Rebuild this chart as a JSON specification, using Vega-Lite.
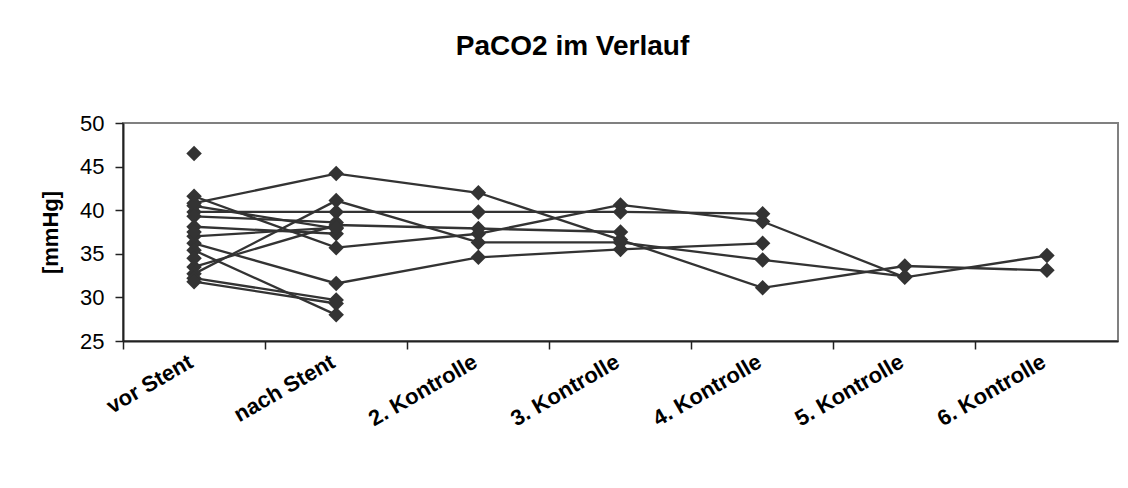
{
  "$schema": "https://vega.github.io/schema/vega-lite/v6.json",
  "width": 995,
  "height": 218,
  "autosize": "none",
  "padding": {"left": 123, "top": 123, "right": 10, "bottom": 147},
  "background": "white",
  "title": {
    "text": "PaCO2 im Verlauf",
    "font": "Liberation Sans",
    "fontSize": 28,
    "fontWeight": "bold",
    "color": "black",
    "anchor": "middle",
    "baseline": "bottom",
    "offset": 23,
    "dx": -48
  },
  "data": {
    "values": [
      {"p": "P1", "t": "vor Stent", "v": 41.6},
      {"p": "P1", "t": "nach Stent", "v": 35.7},
      {"p": "P1", "t": "2. Kontrolle", "v": 37.3},
      {"p": "P1", "t": "3. Kontrolle", "v": 40.6},
      {"p": "P1", "t": "4. Kontrolle", "v": 38.7},
      {"p": "P1", "t": "5. Kontrolle", "v": 32.3},
      {"p": "P1", "t": "6. Kontrolle", "v": 34.8},
      {"p": "P2", "t": "vor Stent", "v": 40.8},
      {"p": "P2", "t": "nach Stent", "v": 44.2},
      {"p": "P2", "t": "2. Kontrolle", "v": 42.0},
      {"p": "P2", "t": "3. Kontrolle", "v": 36.6},
      {"p": "P2", "t": "4. Kontrolle", "v": 31.1},
      {"p": "P2", "t": "5. Kontrolle", "v": 33.6},
      {"p": "P2", "t": "6. Kontrolle", "v": 33.1},
      {"p": "P3", "t": "vor Stent", "v": 39.8},
      {"p": "P3", "t": "nach Stent", "v": 39.8},
      {"p": "P3", "t": "2. Kontrolle", "v": 39.8},
      {"p": "P3", "t": "3. Kontrolle", "v": 39.8},
      {"p": "P3", "t": "4. Kontrolle", "v": 39.6},
      {"p": "P4", "t": "vor Stent", "v": 36.2},
      {"p": "P4", "t": "nach Stent", "v": 31.6},
      {"p": "P4", "t": "2. Kontrolle", "v": 34.6},
      {"p": "P4", "t": "3. Kontrolle", "v": 35.5},
      {"p": "P4", "t": "4. Kontrolle", "v": 36.2},
      {"p": "P5", "t": "vor Stent", "v": 33.5},
      {"p": "P5", "t": "nach Stent", "v": 38.3},
      {"p": "P5", "t": "2. Kontrolle", "v": 37.9},
      {"p": "P5", "t": "3. Kontrolle", "v": 37.5},
      {"p": "P6", "t": "vor Stent", "v": 32.7},
      {"p": "P6", "t": "nach Stent", "v": 41.1},
      {"p": "P6", "t": "2. Kontrolle", "v": 36.3},
      {"p": "P6", "t": "3. Kontrolle", "v": 36.3},
      {"p": "P6", "t": "4. Kontrolle", "v": 34.3},
      {"p": "P6", "t": "5. Kontrolle", "v": 32.4},
      {"p": "P7", "t": "vor Stent", "v": 35.4},
      {"p": "P7", "t": "nach Stent", "v": 28.0},
      {"p": "P8", "t": "vor Stent", "v": 32.2},
      {"p": "P8", "t": "nach Stent", "v": 29.7},
      {"p": "P9", "t": "vor Stent", "v": 31.8},
      {"p": "P9", "t": "nach Stent", "v": 29.3},
      {"p": "P10", "t": "vor Stent", "v": 40.5},
      {"p": "P10", "t": "nach Stent", "v": 37.9},
      {"p": "P11", "t": "vor Stent", "v": 39.3},
      {"p": "P11", "t": "nach Stent", "v": 38.6},
      {"p": "P12", "t": "vor Stent", "v": 38.1},
      {"p": "P12", "t": "nach Stent", "v": 37.3},
      {"p": "P13", "t": "vor Stent", "v": 37.0},
      {"p": "P13", "t": "nach Stent", "v": 38.0},
      {"p": "P14", "t": "vor Stent", "v": 37.5},
      {"p": "P15", "t": "vor Stent", "v": 34.5},
      {"p": "P16", "t": "vor Stent", "v": 46.5}
    ]
  },
  "encoding": {
    "x": {
      "field": "t",
      "type": "nominal",
      "bandPosition": 0.5,
      "sort": ["vor Stent", "nach Stent", "2. Kontrolle", "3. Kontrolle", "4. Kontrolle", "5. Kontrolle", "6. Kontrolle"],
      "scale": {"type": "band", "paddingInner": 0, "paddingOuter": 0},
      "axis": {
        "title": null,
        "bandPosition": 0,
        "labelOffset": -8,
        "labelAngle": -30,
        "labelAlign": "right",
        "labelBaseline": "top",
        "labelPadding": 2,
        "labelFont": "Liberation Sans",
        "labelFontSize": 22,
        "labelFontWeight": "bold",
        "labelColor": "black",
        "tickSize": 8,
        "tickColor": "#222222",
        "tickWidth": 1.5,
        "domainColor": "#222222",
        "domainWidth": 2,
        "grid": false
      }
    },
    "y": {
      "field": "v",
      "type": "quantitative",
      "scale": {"domain": [25, 50], "nice": false, "zero": false},
      "axis": {
        "title": "[mmHg]",
        "titleFont": "Liberation Sans",
        "titleFontSize": 22,
        "titleFontWeight": "bold",
        "titleColor": "black",
        "titlePadding": 17,
        "values": [25, 30, 35, 40, 45, 50],
        "labelFont": "Liberation Sans",
        "labelFontSize": 22,
        "labelColor": "black",
        "labelPadding": 11,
        "tickSize": 8,
        "tickColor": "#222222",
        "tickWidth": 1.5,
        "domainColor": "#222222",
        "domainWidth": 2,
        "grid": false
      }
    }
  },
  "layer": [
    {
      "mark": {"type": "line", "color": "#333333", "strokeWidth": 2.3},
      "encoding": {"detail": {"field": "p"}}
    },
    {
      "mark": {"type": "point", "shape": "diamond", "filled": true, "color": "#333333", "size": 240, "opacity": 1}
    }
  ],
  "config": {
    "view": {"stroke": "#808080", "strokeWidth": 2}
  }
}
